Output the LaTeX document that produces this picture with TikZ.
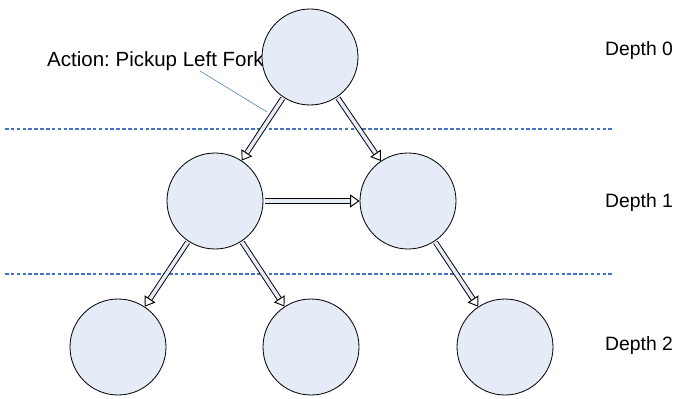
\documentclass[tikz,border=0pt]{standalone}
\usepackage{fontspec}
\setmainfont{Liberation Sans}
\usetikzlibrary{arrows.meta}
\frenchspacing

\definecolor{statefill}{RGB}{230,236,247}
\definecolor{levelblue}{RGB}{68,114,196}
\definecolor{noteblue}{RGB}{79,129,189}

\begin{document}
\begin{tikzpicture}[x=0.03cm, y=-0.03cm,
    state/.style={circle, draw, fill=statefill, line width=0.7pt, minimum size=96*0.03cm, inner sep=0pt},
    move/.style={double=statefill, double distance=3pt, line width=0.8pt,
        -{Triangle[open, length=8pt, width=11pt]}, shorten <=1pt},
    level/.style={levelblue, line width=1.1pt, dash pattern=on 3pt off 2pt},
    depth/.style={font=\fontsize{16.5}{19}\selectfont, anchor=west, inner sep=0pt}]
\useasboundingbox (0,0) rectangle (678,399);

% levels
\draw[level] (5,129) -- (612,129);
\draw[level] (5,274) -- (612,274);

% note on the first move (sits behind the root)
\node[depth, font=\fontsize{17.5}{20}\selectfont] (act) at (47,61) {Action: Pickup Left Fork};
\coordinate (notefrom) at (200,71);
\coordinate (noteto) at (267,112);
\draw[noteblue, line width=0.5pt] (notefrom) -- (noteto);

% states
\node[state] (s0)  at (310,57)  {};
\node[state] (s1a) at (215,201) {};
\node[state] (s1b) at (408,201) {};
\node[state] (s2a) at (118,347) {};
\node[state] (s2b) at (311,347) {};
\node[state] (s2c) at (505,347) {};

% moves between states
\draw[move] (s0)  -- (s1a);
\draw[move] (s0)  -- (s1b);
\draw[move] (s1a) -- (s1b);
\draw[move] (s1a) -- (s2a);
\draw[move] (s1a) -- (s2b);
\draw[move] (s1b) -- (s2c);

% depth labels
\node[depth] (d0) at (605,51)  {Depth 0};
\node[depth] (d1) at (605,203) {Depth 1};
\node[depth] (d2) at (605,345) {Depth 2};
\end{tikzpicture}
\end{document}
